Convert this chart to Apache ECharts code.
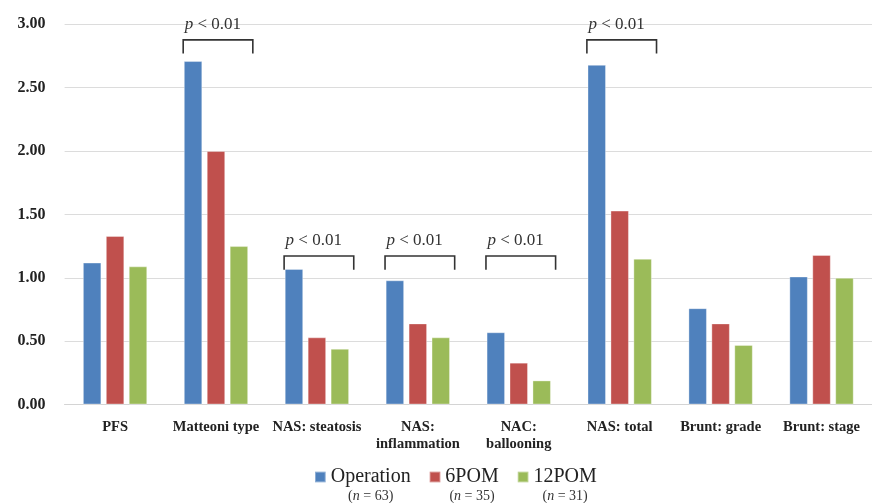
<!DOCTYPE html>
<html>
<head>
<meta charset="utf-8">
<script src="https://cdn.jsdelivr.net/npm/echarts@6/dist/echarts.min.js"></script>
<style>
  html, body { margin: 0; padding: 0; background: #fff; }
  #chart { width: 872px; height: 503px; }
</style>
</head>
<body>
<div id="chart"></div>
<script>
// Histological scores by time point
const categories = [
  'PFS',
  'Matteoni type',
  'NAS: steatosis',
  'NAS:\ninflammation',
  'NAC:\nballooning',
  'NAS: total',
  'Brunt: grade',
  'Brunt: stage'
];
const seriesNames = ['Operation', '6POM', '12POM'];
const seriesCounts = [63, 35, 31];
const operation = [1.12, 2.71, 1.07, 0.98, 0.57, 2.68, 0.76, 1.01];
const pom6 = [1.33, 2.00, 0.53, 0.64, 0.33, 1.53, 0.64, 1.18];
const pom12 = [1.09, 1.25, 0.44, 0.53, 0.19, 1.15, 0.47, 1.00];
const yTicks = { min: 0, max: 3, interval: 0.5 };

// Significance brackets: category index and the value level of the bracket bar
const bracketCats = [1, 2, 3, 4, 5];
const bracketLevels = [2.877, 1.172, 1.172, 1.172, 2.877];
const bracketText = '{i|p} < 0.01';

const colors = ['#4F81BD', '#C0504D', '#9BBB59'];
const serif = '"Liberation Serif", "Times New Roman", serif';

const chart = echarts.init(document.getElementById('chart'), null, { renderer: 'canvas' });

const barValues = [operation, pom6, pom12];
const barSeries = seriesNames.map((name, i) => ({
  name: name,
  type: 'bar',
  data: barValues[i],
  barWidth: 18.5,
  barGap: '24%',
  itemStyle: {
    color: colors[i],
    borderColor: 'rgba(255,255,255,0.35)',
    borderWidth: 1
  },
  emphasis: { disabled: true }
}));

const bracketSeries = {
  name: 'brackets',
  type: 'custom',
  data: bracketCats.map((c, i) => [c, bracketLevels[i]]),
  encode: { x: 0, y: 1 },
  clip: false,
  z: 10,
  silent: true,
  renderItem: function (params, api) {
    const pt = api.coord([api.value(0), api.value(1)]);
    const bw = api.size([1, 0])[0];
    const left = pt[0] - 0.325 * bw;
    const right = pt[0] + 0.365 * bw;
    const top = pt[1];
    const drop = 13.7;
    return {
      type: 'group',
      children: [
        {
          type: 'polyline',
          shape: { points: [[left, top + drop], [left, top], [right, top], [right, top + drop]] },
          style: { stroke: '#333', lineWidth: 1.6, fill: null }
        },
        {
          type: 'text',
          x: left + 1.5,
          y: top - 15,
          style: {
            text: bracketText,
            fontFamily: serif,
            fontSize: 17,
            fill: '#333',
            verticalAlign: 'middle',
            align: 'left',
            rich: {
              i: { fontStyle: 'italic', fontFamily: serif, fontSize: 17, fill: '#333' }
            }
          }
        }
      ]
    };
  }
};

const option = {
  animation: false,
  color: colors,
  grid: {
    left: 64.6,
    top: 24.3,
    width: 817.6,
    bottom: 98.5,
    containLabel: false
  },
  legend: {
    data: seriesNames,
    left: 314,
    top: 451,
    padding: 0,
    icon: 'rect',
    itemWidth: 10.7,
    itemHeight: 10.7,
    itemGap: 18,
    selectedMode: false,
    formatter: function (name) {
      const k = seriesNames.indexOf(name);
      return '{gap| }\n{name|' + name + '}\n{n|(}{ni|n}{n| = ' + seriesCounts[k] + ')}';
    },
    textStyle: {
      fontFamily: serif,
      padding: [0, 0, 0, 0],
      rich: {
        gap: { fontSize: 14, lineHeight: 19, align: 'center' },
        name: { fontFamily: serif, fontSize: 20, lineHeight: 19, color: '#222', align: 'center' },
        n: { fontFamily: serif, fontSize: 14, lineHeight: 19, color: '#333', align: 'center' },
        ni: { fontFamily: serif, fontSize: 14, lineHeight: 19, color: '#333', fontStyle: 'italic', align: 'center' }
      }
    }
  },
  xAxis: {
    type: 'category',
    data: categories,
    axisTick: { show: false },
    axisLine: { show: true, lineStyle: { color: '#d4d4d4', width: 1.2 } },
    axisLabel: {
      interval: 0,
      margin: 14,
      fontFamily: serif,
      fontWeight: 'bold',
      fontSize: 14.5,
      lineHeight: 17,
      color: '#222'
    }
  },
  yAxis: {
    type: 'value',
    min: yTicks.min,
    max: yTicks.max,
    interval: yTicks.interval,
    axisLine: { show: false },
    axisTick: { show: false },
    splitLine: { lineStyle: { color: '#dcdcdc', width: 1.2 } },
    axisLabel: {
      margin: 19,
      fontFamily: serif,
      fontWeight: 'bold',
      fontSize: 16,
      color: '#222',
      formatter: v => v.toFixed(2)
    }
  },
  series: [...barSeries, bracketSeries]
};

chart.setOption(option);
</script>
</body>
</html>
